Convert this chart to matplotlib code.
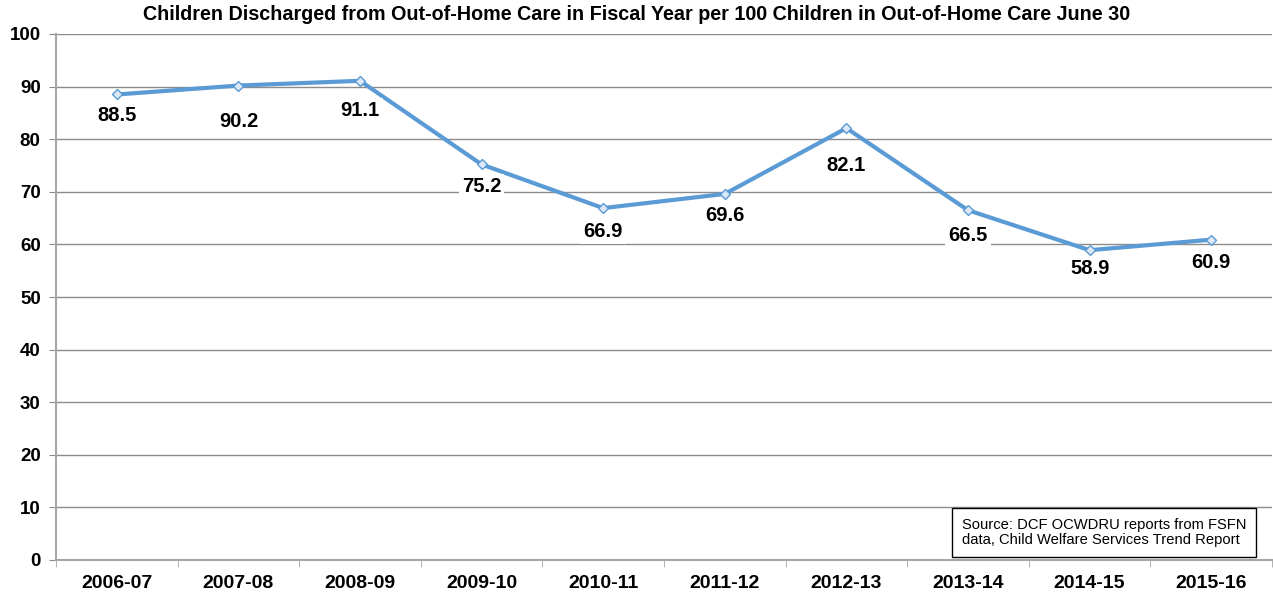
import matplotlib.pyplot as plt

plt.rcParams['font.family'] = ['Liberation Sans', 'DejaVu Sans']

# Data
years = ["2006-07", "2007-08", "2008-09", "2009-10", "2010-11",
         "2011-12", "2012-13", "2013-14", "2014-15", "2015-16"]
rates = [88.5, 90.2, 91.1, 75.2, 66.9, 69.6, 82.1, 66.5, 58.9, 60.9]

# label drop below each point, in pixels
label_drop = [21, 36, 30, 22, 23, 22, 37, 25, 18, 23]

fig = plt.figure(figsize=(12.73, 5.95), dpi=100)
ax = fig.add_axes([56/1273, 1 - 560/595, 1216/1273, 526/595])

x = list(range(len(years)))
ax.plot(x, rates, color='#5b9bd5', lw=3, marker='D', ms=5,
        mfc='#dce8f6', mec='#5b9bd5', mew=1, zorder=3)

for xi, v, d in zip(x, rates, label_drop):
    ax.annotate(f"{v:.1f}", (xi, v), xytext=(0, -d * 0.72),
                textcoords='offset points', ha='center', va='center',
                fontsize=14.5, fontweight='bold', zorder=4,
                bbox=dict(boxstyle='square,pad=0.15', fc='white', ec='none'))

ax.set_xlim(-0.5, len(years) - 0.5)
ax.set_ylim(0, 100)
ax.set_yticks(range(0, 101, 10))
ax.yaxis.grid(True, color='#8c8c8c', lw=1)
ax.set_axisbelow(True)

ax.set_xticks(x)
ax.set_xticklabels(years, fontsize=14, fontweight='bold')
ax.set_xticks([i - 0.5 for i in range(len(years) + 1)], minor=True)
ax.tick_params(axis='x', which='major', length=0, pad=11)
ax.tick_params(axis='x', which='minor', length=5, color='#a6a6a6')
ax.tick_params(axis='y', length=5, color='#8c8c8c', labelsize=13.5, pad=6)
for lbl in ax.get_yticklabels():
    lbl.set_fontweight('bold')

for s in ['top', 'right']:
    ax.spines[s].set_visible(False)
for s in ['left', 'bottom']:
    ax.spines[s].set_color('#a6a6a6')
    ax.spines[s].set_linewidth(1.5)

fig.text(0.5, 1 - 15/595, "Children Discharged from Out-of-Home Care in Fiscal Year per 100 Children in Out-of-Home Care June 30",
         ha='center', va='center', fontsize=14.2, fontweight='bold')

ax.text(0.745, 0.080, "Source: DCF OCWDRU reports from FSFN\ndata, Child Welfare Services Trend Report",
        transform=ax.transAxes, ha='left', va='top', fontsize=10.6, linespacing=1.1,
        bbox=dict(boxstyle='square,pad=0.65', fc='white', ec='black', lw=1))

fig.savefig("out.png", dpi=100)
